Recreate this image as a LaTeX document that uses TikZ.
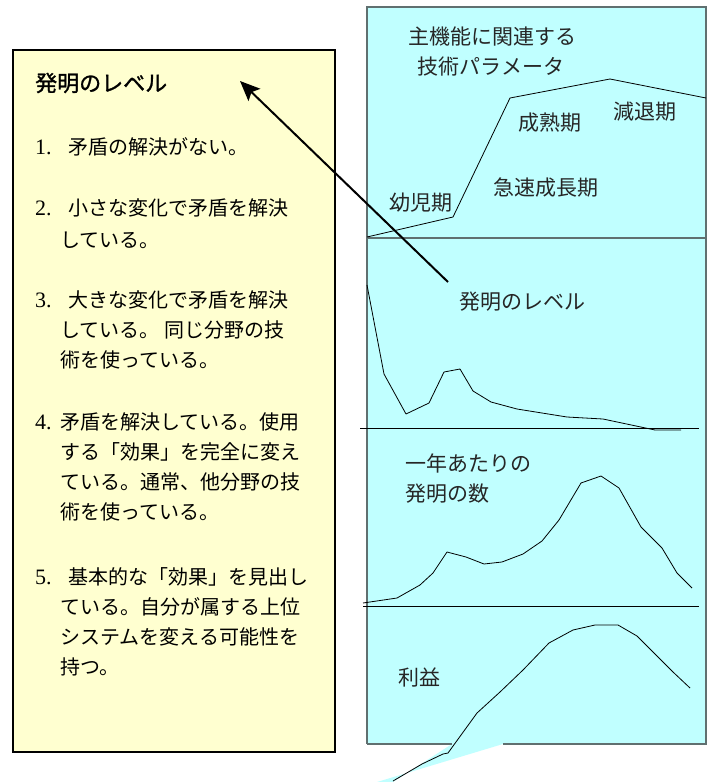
\documentclass[tikz,border=0pt]{standalone}
\usepackage{fontspec}
\setmainfont{Liberation Serif}
\newfontfamily\jp{Noto Sans CJK JP}
\newfontfamily\jpbold[FakeBold=1.2]{Noto Sans CJK JP}
\usetikzlibrary{arrows.meta}
\definecolor{panelcyan}{RGB}{192,255,255}
\definecolor{boxyellow}{RGB}{255,255,208}
\definecolor{panelborder}{RGB}{96,112,112}
\newcommand{\numlab}[2]{\makebox[#1pt][l]{\rmfamily\fontsize{22}{24}\selectfont #2}}
\begin{document}
\begin{tikzpicture}[x=1pt,y=-1pt,
  boxtext/.style={anchor=west, inner sep=0pt, font=\jp\fontsize{20}{24}\selectfont},
  paneltext/.style={inner sep=0pt, text=black!85, font=\jp\fontsize{21}{25}\selectfont},
  curveline/.style={line width=0.8pt, black, line join=round},
  sepline/.style={line width=0.8pt, black},
  frameline/.style={line width=1.4pt, panelborder}]
\useasboundingbox (0,0) rectangle (709,782);
% right panel
\fill[panelcyan] (367,7) rectangle (706,744);
\fill[panelcyan] (452,744) -- (503,744) -- (377,782) -- (393,782) -- cycle;
\draw[frameline] (367,744) -- (367,7) -- (706,7) -- (706,744) -- (503,744);
\draw[frameline] (367,744) -- (452,744);
\draw[frameline] (367,238) -- (706,238);
\draw[sepline] (360,428) -- (699,428);
\draw[sepline] (363,606) -- (699,606);
% curves
\draw[curveline] (367,237) -- (453,217) -- (510,98) -- (610,79) -- (706,98);
\draw[curveline] (367,285) -- (384,374) -- (406,414) -- (429,403) -- (444,372) -- (460,369) -- (473,391) -- (491,402) -- (517,409) -- (567,417) -- (603,419) -- (655,430) -- (681,430);
\draw[curveline] (363,603) -- (397,598) -- (420,585) -- (433,573) -- (447,552) -- (466,557) -- (484,564) -- (502,562) -- (523,554) -- (542,541) -- (559,520) -- (581,483) -- (601,476) -- (619,488) -- (641,527) -- (662,548) -- (677,573) -- (692,588);
\draw[curveline] (393,781) -- (422,764) -- (443,754) -- (448,753) -- (477,713) -- (500,692) -- (523,670) -- (549,643) -- (573,630) -- (595,625) -- (618,625) -- (637,636) -- (673,672) -- (690,688);
% panel labels
\node[paneltext] (tp1) at (492,37) {主機能に関連する};
\node[paneltext] (tp2) at (491,67) {技術パラメータ};
\node[paneltext] (mat) at (550,123) {成熟期};
\node[paneltext] (dec) at (645,112) {減退期};
\node[paneltext] (grw) at (546,188) {急速成長期};
\node[paneltext] (inf) at (421,203) {幼児期};
\node[paneltext] (lvl) at (522,302) {発明のレベル};
\node[paneltext, anchor=west] (num1) at (405,463) {一年あたりの};
\node[paneltext, anchor=west] (num2) at (405,494) {発明の数};
\node[paneltext] (prf) at (419,678) {利益};
% left box
\draw[line width=2pt, fill=boxyellow] (13,50) rectangle (335,752);
\node[boxtext, font=\jpbold\fontsize{22}{26}\selectfont] (title) at (35,83) {発明のレベル};
\node[boxtext] (l1) at (35,147) {\numlab{33}{1.}矛盾の解決がない。};
\node[boxtext] (l2a) at (35,208) {\numlab{33}{2.}小さな変化で矛盾を解決};
\node[boxtext] (l2b) at (60,240) {している。};
\node[boxtext] (l3a) at (35,300) {\numlab{33}{3.}大きな変化で矛盾を解決};
\node[boxtext] (l3b) at (60,330) {している。 同じ分野の技};
\node[boxtext] (l3c) at (60,360) {術を使っている。};
\node[boxtext] (l4a) at (35,422) {\numlab{25}{4.}矛盾を解決している。使用};
\node[boxtext] (l4b) at (60,452) {する「効果」を完全に変え};
\node[boxtext] (l4c) at (60,482) {ている。通常、他分野の技};
\node[boxtext] (l4d) at (60,512) {術を使っている。};
\node[boxtext] (l5a) at (35,577) {\numlab{33}{5.}基本的な「効果」を見出し};
\node[boxtext] (l5b) at (60,607) {ている。自分が属する上位};
\node[boxtext] (l5c) at (60,637) {システムを変える可能性を};
\node[boxtext] (l5d) at (60,667) {持つ。};
% arrow
\coordinate (arrowtail) at (448,282);
\coordinate (arrowtip) at (240,81);
\draw[line width=2pt, -{Stealth[length=20pt,width=17pt,inset=4pt]}] (arrowtail) -- (arrowtip);
\end{tikzpicture}
\end{document}
